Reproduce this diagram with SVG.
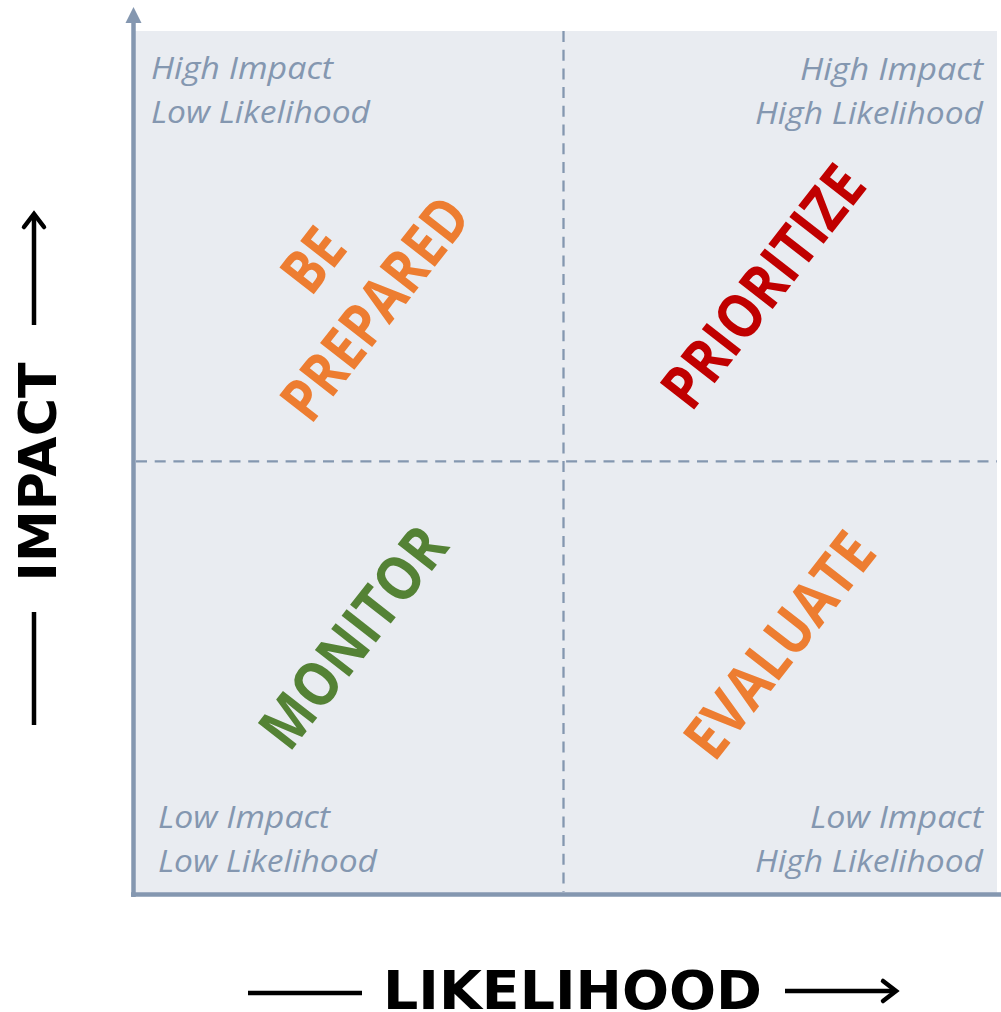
<svg xmlns="http://www.w3.org/2000/svg" width="1001" height="1012" viewBox="0 0 1001 1012">
<style>
.corner{font-family:"Open Sans","Liberation Sans",sans-serif;font-style:italic;font-size:31px;fill:#8497B0}
.big{font-family:"Open Sans","Liberation Sans",sans-serif;font-weight:bold;font-size:61px}
.axislabel{font-family:"DejaVu Sans","Verdana",sans-serif;font-weight:bold;fill:#000}
.dash{stroke:#8497B0;stroke-width:2.3;stroke-dasharray:11 7.7;fill:none}
.axis{stroke:#8497B0;stroke-width:4.5;fill:none}
.blk{stroke:#000;stroke-width:4.5;fill:none;stroke-linecap:butt}
.chev{stroke:#000;stroke-width:4.5;fill:none;stroke-linecap:round;stroke-linejoin:miter}
</style>
<rect x="0" y="0" width="1001" height="1012" fill="#fff"/>
<g id="plot-area">
<rect x="135" y="31" width="862" height="862" fill="#E9ECF1"/>
</g>
<g id="connectors">
<line class="dash" x1="563.5" y1="31" x2="563.5" y2="892"/>
<line class="dash" x1="136" y1="461.3" x2="997" y2="461.3"/>
<line class="axis" x1="133.5" y1="21" x2="133.5" y2="897"/>
<polygon points="133.5,7 125.5,23 141.5,23" fill="#8497B0"/>
<line class="axis" x1="131" y1="894.5" x2="1001" y2="894.5"/>
<line class="blk" x1="34" y1="214" x2="34" y2="325"/>
<polyline class="chev" points="24,227 34,214 44,227"/>
<line class="blk" x1="34" y1="612" x2="34" y2="725"/>
<line class="blk" x1="248" y1="993" x2="362" y2="993"/>
<line class="blk" x1="785" y1="991" x2="895" y2="991"/>
<polyline class="chev" points="883,981 896,991 883,1001"/>
</g>
<g id="axis-impact">
<text class="axislabel" font-size="52" text-anchor="middle" transform="translate(56,472) rotate(-90)" x="0" y="0" textLength="219" lengthAdjust="spacingAndGlyphs">IMPACT</text>
</g>
<g id="axis-likelihood">
<text class="axislabel" font-size="54" x="383" y="1009" textLength="379" lengthAdjust="spacingAndGlyphs">LIKELIHOOD</text>
</g>
<g id="label-hl">
<text class="corner" x="151" y="79" textLength="182" lengthAdjust="spacingAndGlyphs">High Impact</text>
<text class="corner" x="151" y="123" textLength="219" lengthAdjust="spacingAndGlyphs">Low Likelihood</text>
</g>
<g id="label-hh">
<text class="corner" x="800" y="80" textLength="183" lengthAdjust="spacingAndGlyphs">High Impact</text>
<text class="corner" x="755" y="124" textLength="228" lengthAdjust="spacingAndGlyphs">High Likelihood</text>
</g>
<g id="label-ll">
<text class="corner" x="158" y="828" textLength="172" lengthAdjust="spacingAndGlyphs">Low Impact</text>
<text class="corner" x="158" y="872" textLength="219" lengthAdjust="spacingAndGlyphs">Low Likelihood</text>
</g>
<g id="label-lh">
<text class="corner" x="810" y="828" textLength="173" lengthAdjust="spacingAndGlyphs">Low Impact</text>
<text class="corner" x="755" y="872" textLength="228" lengthAdjust="spacingAndGlyphs">High Likelihood</text>
</g>
<g id="be-prepared" transform="translate(375,308.5) rotate(-52)">
<text class="big" fill="#ED7D31" text-anchor="middle" x="0" y="-57" textLength="62" lengthAdjust="spacingAndGlyphs">BE</text>
<text class="big" fill="#ED7D31" text-anchor="middle" x="0" y="21.5" textLength="264" lengthAdjust="spacingAndGlyphs">PREPARED</text>
</g>
<g id="prioritize" transform="translate(763,286.5) rotate(-52)">
<text class="big" fill="#C00000" text-anchor="middle" x="0" y="21.5" textLength="288" lengthAdjust="spacingAndGlyphs">PRIORITIZE</text>
</g>
<g id="monitor" transform="translate(353,637) rotate(-52)">
<text class="big" fill="#548235" text-anchor="middle" x="0" y="21.5" textLength="262" lengthAdjust="spacingAndGlyphs">MONITOR</text>
</g>
<g id="evaluate" transform="translate(779.5,645) rotate(-52)">
<text class="big" fill="#ED7D31" text-anchor="middle" x="0" y="21.5" textLength="267" lengthAdjust="spacingAndGlyphs">EVALUATE</text>
</g>
</svg>
